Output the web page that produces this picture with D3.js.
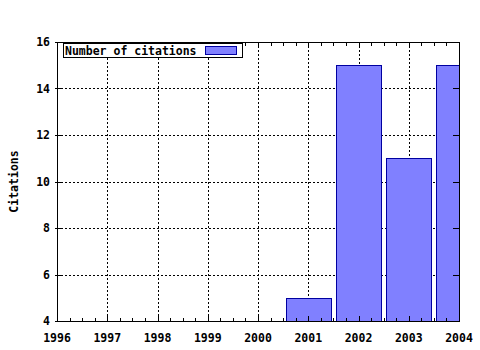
<!DOCTYPE html>
<html><head><meta charset="utf-8">
<script src="https://cdn.jsdelivr.net/npm/d3@7"></script>
<style>body{margin:0;background:#fff}svg{display:block}</style>
</head><body>
<script>
const years = [2001, 2002, 2003, 2004];
const citations = [5, 15, 11, 15];
const xTicks = [1996, 1997, 1998, 1999, 2000, 2001, 2002, 2003, 2004];
const yTicks = [4, 6, 8, 10, 12, 14, 16];
const seriesName = "Number of citations";
const yLabel = "Citations";

const W = 480, H = 350;
const m = {left: 57, right: 21, top: 42, bottom: 29};
const font = "'DejaVu Sans Mono', monospace";
const fs = 11.5;
const svg = d3.select("body").append("svg").attr("width", W).attr("height", H);
const x = d3.scaleLinear().domain([1996, 2004]).range([m.left, W - m.right]);
const y = d3.scaleLinear().domain([4, 16]).range([H - m.bottom, m.top]);

svg.append("defs").append("clipPath").attr("id", "clip").append("rect")
  .attr("x", m.left).attr("y", m.top).attr("width", x(2004) - m.left).attr("height", y(4) - m.top);

const g = svg.append("g");
// grid
g.selectAll(".vg").data(xTicks.slice(1, -1)).enter().append("line")
  .attr("x1", d => Math.round(x(d)) + 0.5).attr("x2", d => Math.round(x(d)) + 0.5)
  .attr("y1", m.top).attr("y2", y(4))
  .attr("stroke", "#000").attr("stroke-width", 1).attr("stroke-dasharray", "2,2");
g.selectAll(".hg").data(yTicks.slice(1, -1)).enter().append("line")
  .attr("x1", m.left).attr("x2", x(2004))
  .attr("y1", d => Math.round(y(d)) + 0.5).attr("y2", d => Math.round(y(d)) + 0.5)
  .attr("stroke", "#000").attr("stroke-width", 1).attr("stroke-dasharray", "2,2");

// bars
const bw = 0.9;
g.append("g").attr("clip-path", "url(#clip)").selectAll("rect").data(years).enter().append("rect")
  .attr("x", (d) => Math.round(x(d - bw / 2)) + 0.5)
  .attr("width", (d) => Math.round(x(d + bw / 2)) - Math.round(x(d - bw / 2)))
  .attr("y", (d, i) => Math.round(y(citations[i])) + 0.5)
  .attr("height", (d, i) => Math.round(y(4)) - Math.round(y(citations[i])) + 2)
  .attr("fill", "#8080ff").attr("stroke", "#0000a0").attr("stroke-width", 1);

// border
svg.append("rect").attr("x", m.left + 0.5).attr("y", m.top + 0.5)
  .attr("width", x(2004) - m.left).attr("height", y(4) - m.top)
  .attr("fill", "none").attr("stroke", "#000");

// ticks
const ticks = svg.append("g").attr("stroke", "#000");
xTicks.forEach(t => {
  const xx = Math.round(x(t)) + 0.5;
  ticks.append("line").attr("x1", xx).attr("x2", xx).attr("y1", y(4) - 5).attr("y2", y(4) + 1);
  ticks.append("line").attr("x1", xx).attr("x2", xx).attr("y1", m.top).attr("y2", m.top + 6);
});
d3.range(1996, 2004, 0.25).filter(v => v % 1 !== 0).forEach(t => {
  const xx = Math.round(x(t)) + 0.5;
  ticks.append("line").attr("x1", xx).attr("x2", xx).attr("y1", y(4) - 3).attr("y2", y(4) + 1);
  ticks.append("line").attr("x1", xx).attr("x2", xx).attr("y1", m.top).attr("y2", m.top + 4);
});
yTicks.forEach(t => {
  const yy = Math.round(y(t)) + 0.5;
  ticks.append("line").attr("x1", m.left - 2).attr("x2", m.left + 6).attr("y1", yy).attr("y2", yy);
  ticks.append("line").attr("x1", x(2004) - 6).attr("x2", x(2004)).attr("y1", yy).attr("y2", yy);
});

// tick labels
svg.selectAll(".yl").data(yTicks).enter().append("text")
  .attr("x", 50).attr("y", d => y(d) + 4).attr("text-anchor", "end")
  .attr("font-family", font).attr("font-weight", "bold").attr("font-size", fs).text(d => d);
svg.selectAll(".xl").data(xTicks).enter().append("text")
  .attr("x", d => x(d)).attr("y", 342).attr("text-anchor", "middle")
  .attr("font-family", font).attr("font-weight", "bold").attr("font-size", fs).text(d => d);

// y label
svg.append("text").attr("transform", "translate(18," + ((m.top + y(4)) / 2) + ") rotate(-90)")
  .attr("text-anchor", "middle").attr("font-family", font).attr("font-weight", "bold")
  .attr("font-size", fs).text(yLabel);

// legend
const lg = svg.append("g");
lg.append("rect").attr("x", 63.5).attr("y", 43.5).attr("width", 179).attr("height", 14)
  .attr("fill", "#fff").attr("stroke", "#000");
lg.append("text").attr("x", 65).attr("y", 55).attr("font-family", font).attr("font-weight", "bold")
  .attr("font-size", fs).text(seriesName);
lg.append("rect").attr("x", 205.5).attr("y", 46.5).attr("width", 31).attr("height", 8)
  .attr("fill", "#8080ff").attr("stroke", "#0000a0");
</script>
</body></html>
